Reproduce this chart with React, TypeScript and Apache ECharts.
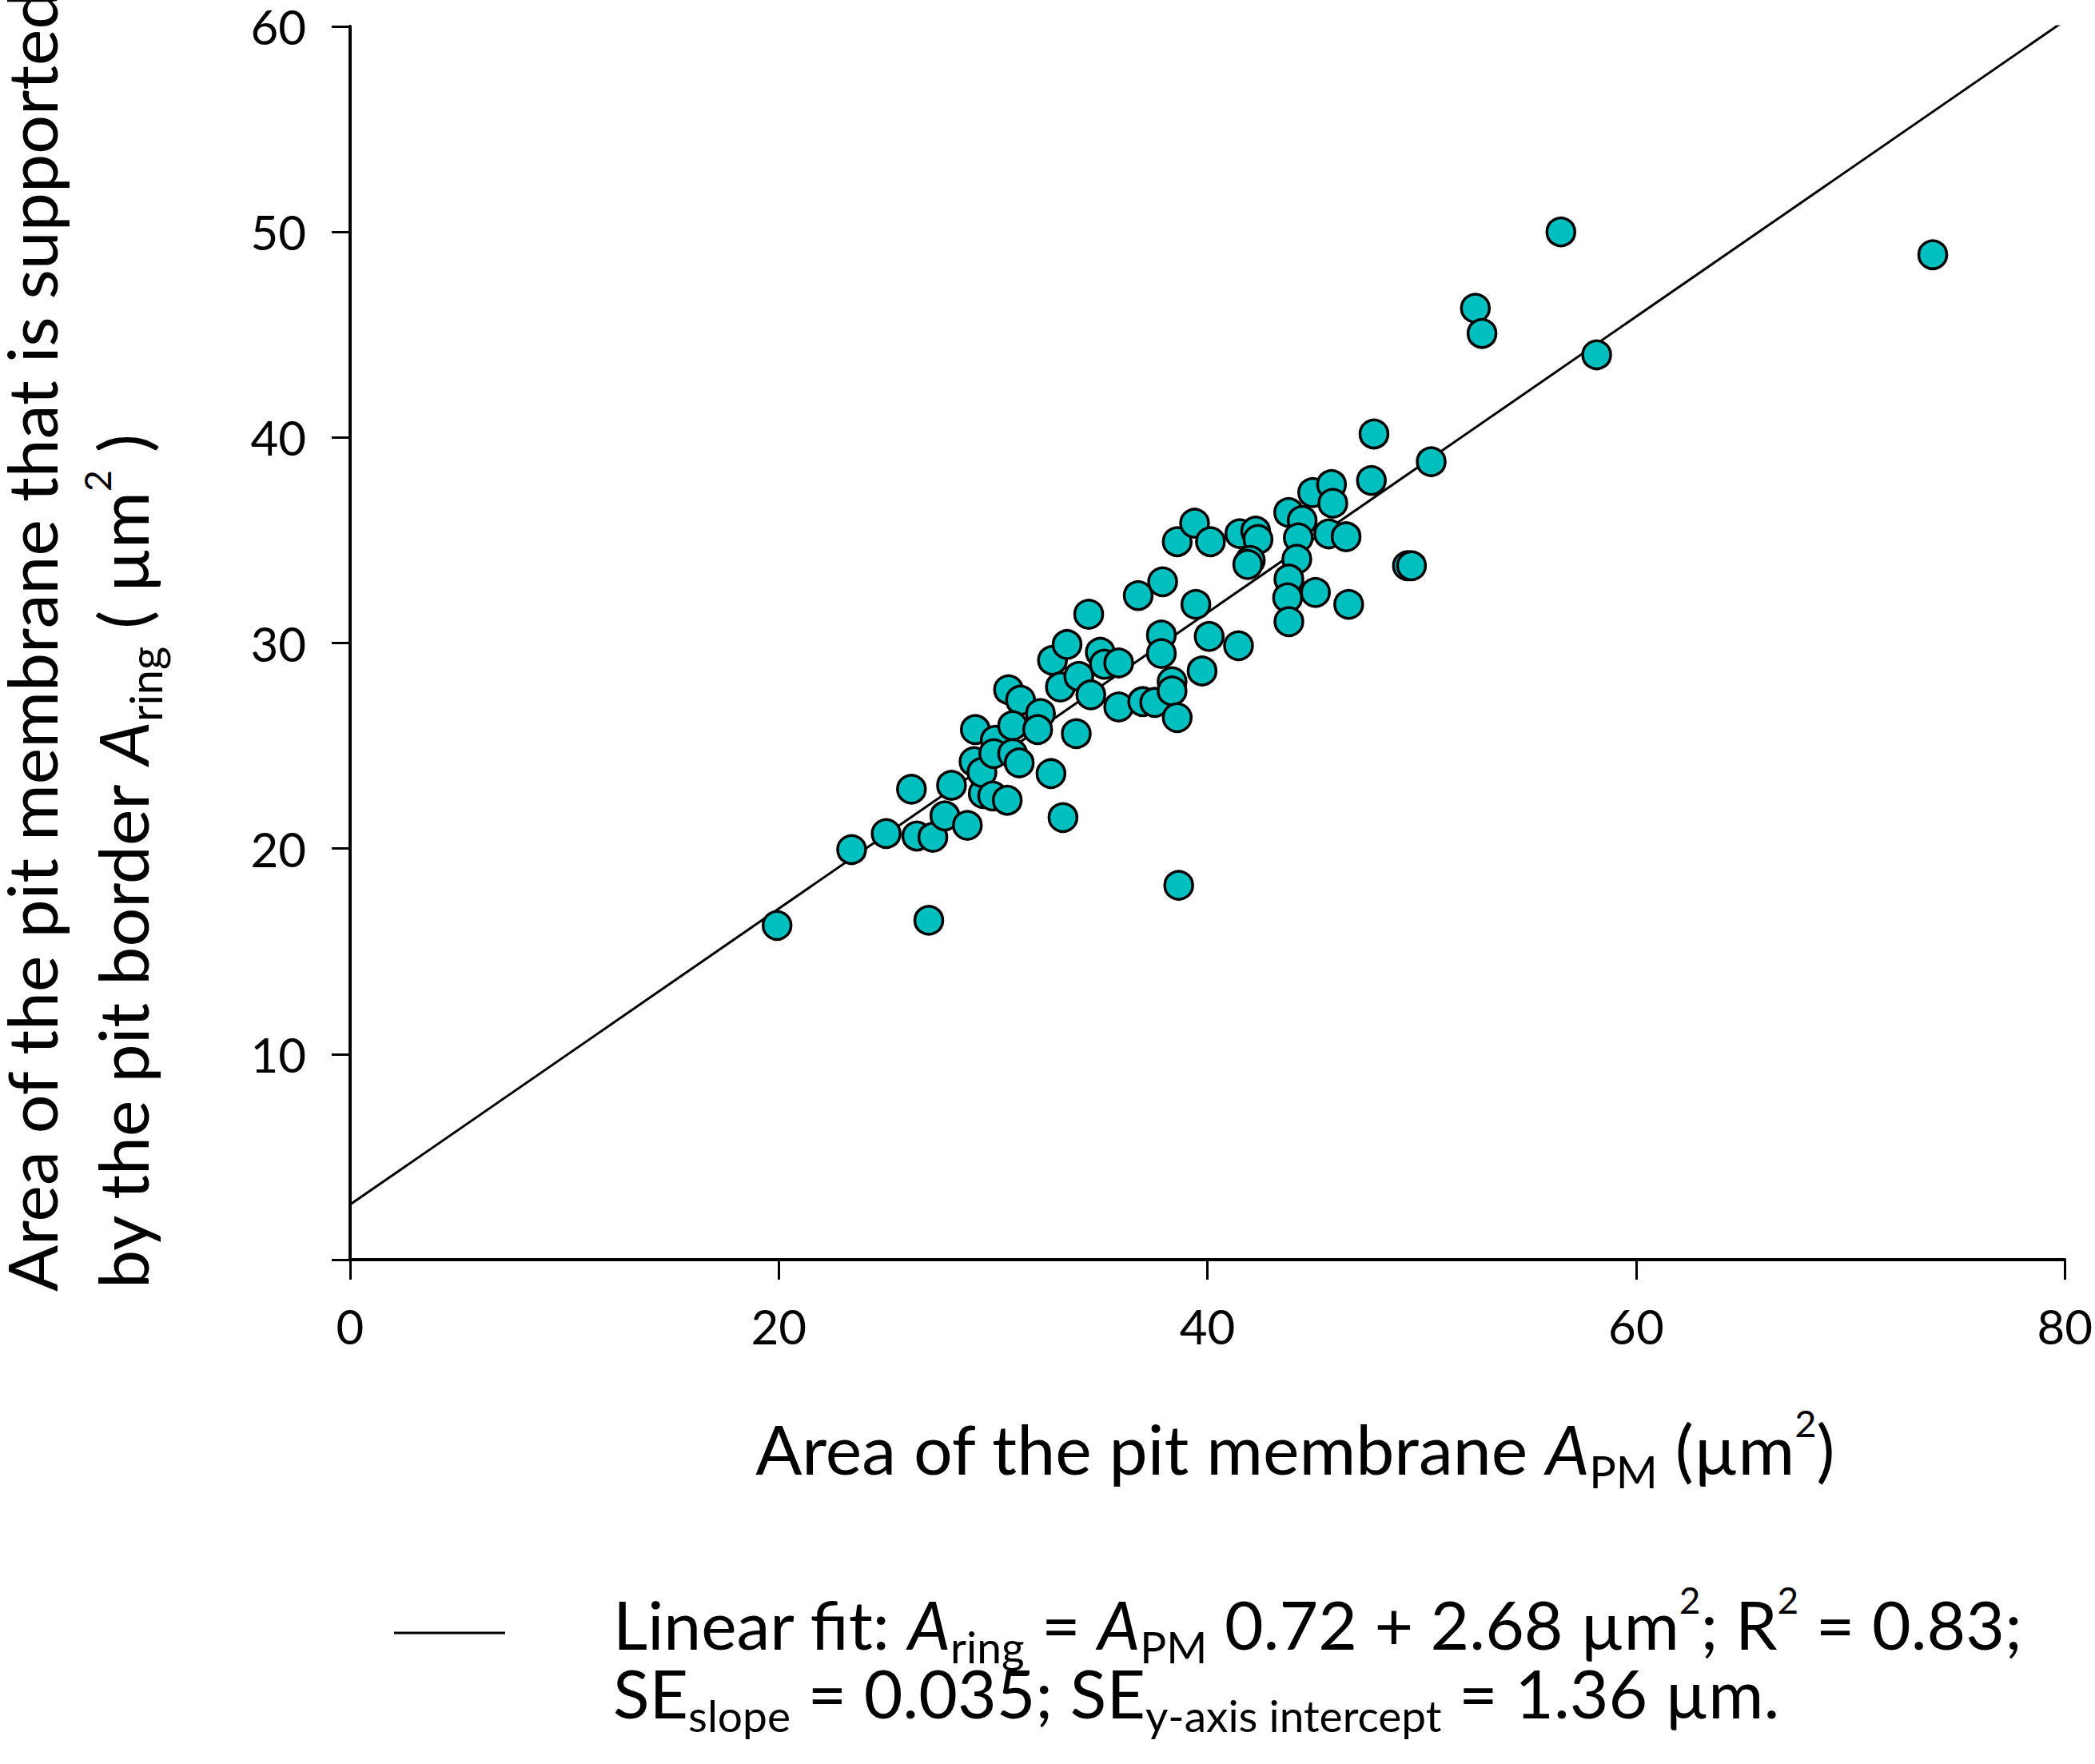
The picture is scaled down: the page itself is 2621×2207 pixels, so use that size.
import React, { useEffect, useRef } from "react";
import * as echarts from "echarts";

// Area of the pit membrane A_PM (µm²)
const xValues: number[] = [
  19.92, 23.4, 25.01, 26.19, 26.44, 27.19, 27.0, 27.75, 28.06, 28.8,
  29.17, 29.11, 29.54, 29.48, 30.1, 30.03, 29.98, 30.66, 30.72, 31.28,
  30.91, 30.91, 31.22, 32.21, 32.08, 32.7, 32.77, 33.26, 33.14, 33.45,
  33.88, 34.0, 34.46, 34.56, 35.0, 35.19, 35.86, 35.86, 36.77, 36.98,
  37.54, 37.91, 37.85, 37.85, 38.35, 38.35, 38.59, 38.66, 38.59, 39.4,
  39.46, 39.75, 40.14, 40.08, 41.45, 41.51, 42.25, 42.36, 42.0, 41.88,
  43.79, 44.42, 44.24, 44.17, 43.8, 43.74, 43.8, 44.91, 45.04, 45.66,
  45.79, 45.85, 46.47, 46.59, 47.65, 47.77, 49.33, 49.52, 50.44, 52.5,
  52.81, 56.49, 58.16, 73.84,
];
// Area supported by the pit border A_ring (µm²)
const yValues: number[] = [
  16.26, 19.95, 20.73, 22.89, 20.61, 20.55, 16.51, 21.59, 23.08, 21.13,
  25.79, 24.23, 22.68, 23.71, 25.27, 24.62, 22.56, 22.35, 27.73, 27.22,
  25.98, 24.62, 24.17, 26.57, 25.79, 23.65, 29.16, 21.51, 27.86, 29.93,
  25.59, 28.38, 31.4, 27.48, 29.55, 28.97, 29.03, 26.89, 32.31, 27.15,
  27.11, 32.98, 30.39, 29.49, 28.12, 27.67, 26.37, 18.21, 34.93, 35.83,
  31.88, 28.64, 34.93, 30.32, 29.87, 35.32, 35.45, 35.04, 34.02, 33.82,
  36.35, 35.96, 35.12, 34.08, 33.11, 32.2, 31.04, 37.32, 32.46, 35.31,
  37.71, 36.8, 35.17, 31.88, 37.91, 40.17, 33.76, 33.76, 38.82, 46.29,
  45.06, 50.0, 44.02, 48.89,
];

const FIT_SLOPE = 0.72;
const FIT_INTERCEPT = 2.68;
const X_MIN = 0;
const X_MAX = 80;
const X_STEP = 20;
const Y_MIN = 0;
const Y_MAX = 60;
const Y_STEP = 10;

const FONT = "Lato";

function makeText(size: number) {
  // rich tokens are centred on the line; padding shifts them by half its size
  const subSize = Math.round(size * 0.65);
  const supSize = Math.round(size * 0.55);
  const subShift = Math.round(size * 0.68);
  const supShift = Math.round(size * 0.72);
  return {
    fontFamily: FONT,
    fontSize: size,
    fill: "#000",
    rich: {
      i: { fontFamily: FONT, fontSize: size, fontStyle: "italic", fill: "#000", verticalAlign: "middle" },
      sub: { fontFamily: FONT, fontSize: subSize, fill: "#000", padding: [subShift, 0, 0, 0], verticalAlign: "middle" },
      sup: { fontFamily: FONT, fontSize: supSize, fill: "#000", padding: [0, 0, supShift, 0], verticalAlign: "middle" },
    },
  };
}

export default function App() {
  const ref = useRef<HTMLDivElement>(null);

  useEffect(() => {
    document.body.style.margin = "0";
    document.body.style.overflow = "hidden";
    if (!ref.current) return;
    const chart = echarts.init(ref.current, undefined, { renderer: "svg" });

    const points = xValues.map((x, i) => [x, yValues[i]]);
    const fitLine = [
      [X_MIN, FIT_SLOPE * X_MIN + FIT_INTERCEPT],
      [X_MAX, FIT_SLOPE * X_MAX + FIT_INTERCEPT],
    ];

    const titleText = makeText(86);
    const legendText = makeText(84);

    chart.setOption({
      animation: false,
      backgroundColor: "#fff",
      grid: { left: 438, right: 33, top: 33, bottom: 631, containLabel: false },
      xAxis: {
        type: "value",
        min: X_MIN,
        max: X_MAX,
        interval: X_STEP,
        axisLine: { show: true, onZero: false, lineStyle: { color: "#000", width: 4 } },
        axisTick: { show: true, length: 25, lineStyle: { color: "#000", width: 3 } },
        axisLabel: { fontFamily: FONT, fontSize: 60, lineHeight: 56, color: "#000", margin: 55 },
        splitLine: { show: false },
      },
      yAxis: {
        type: "value",
        min: Y_MIN,
        max: Y_MAX,
        interval: Y_STEP,
        axisLine: { show: true, onZero: false, lineStyle: { color: "#000", width: 4 } },
        axisTick: { show: true, length: 23, lineStyle: { color: "#000", width: 3 } },
        axisLabel: {
          fontFamily: FONT,
          fontSize: 60,
          lineHeight: 56,
          color: "#000",
          margin: 55,
          formatter: (v: number) => (v === 0 ? "" : String(v)),
        },
        splitLine: { show: false },
      },
      series: [
        {
          type: "line",
          data: fitLine,
          symbol: "none",
          clip: true,
          lineStyle: { color: "#000", width: 3 },
          z: 1,
        },
        {
          type: "scatter",
          data: points,
          symbol: "circle",
          symbolSize: 35,
          itemStyle: { color: "#00bfbf", borderColor: "#000", borderWidth: 3.5, opacity: 1 },
          z: 2,
        },
      ],
      graphic: [
        {
          type: "text",
          x: 1620,
          y: 1811,
          style: {
            ...titleText,
            text: "Area of the pit membrane {i|A}{sub|PM} (µm{sup|2})",
            align: "center",
            verticalAlign: "middle",
          },
        },
        {
          type: "text",
          x: 38,
          y: 1616,
          rotation: Math.PI / 2,
          style: {
            ...titleText,
            text: "Area of the pit membrane that is supported",
            align: "left",
            verticalAlign: "middle",
          },
        },
        {
          type: "text",
          x: 152,
          y: 1612,
          rotation: Math.PI / 2,
          style: {
            ...titleText,
            text: "by the pit border {i|A}{sub|ring} ( µm{sup|2} )",
            align: "left",
            verticalAlign: "middle",
          },
        },
        {
          type: "line",
          shape: { x1: 493, y1: 2043, x2: 632, y2: 2043 },
          style: { stroke: "#000", lineWidth: 3 },
        },
        {
          type: "text",
          x: 767,
          y: 2031,
          style: {
            ...legendText,
            text: "Linear fit: {i|A}{sub|ring} = {i|A}{sub|PM} 0.72 + 2.68 µm{sup|2}; R{sup|2} = 0.83;",
            align: "left",
            verticalAlign: "middle",
          },
        },
        {
          type: "text",
          x: 767,
          y: 2117,
          style: {
            ...legendText,
            text: "SE{sub|slope} = 0.035; SE{sub|y-axis intercept} = 1.36 µm.",
            align: "left",
            verticalAlign: "middle",
          },
        },
      ],
    });

    return () => chart.dispose();
  }, []);

  return <div ref={ref} style={{ width: 2621, height: 2207 }} />;
}
